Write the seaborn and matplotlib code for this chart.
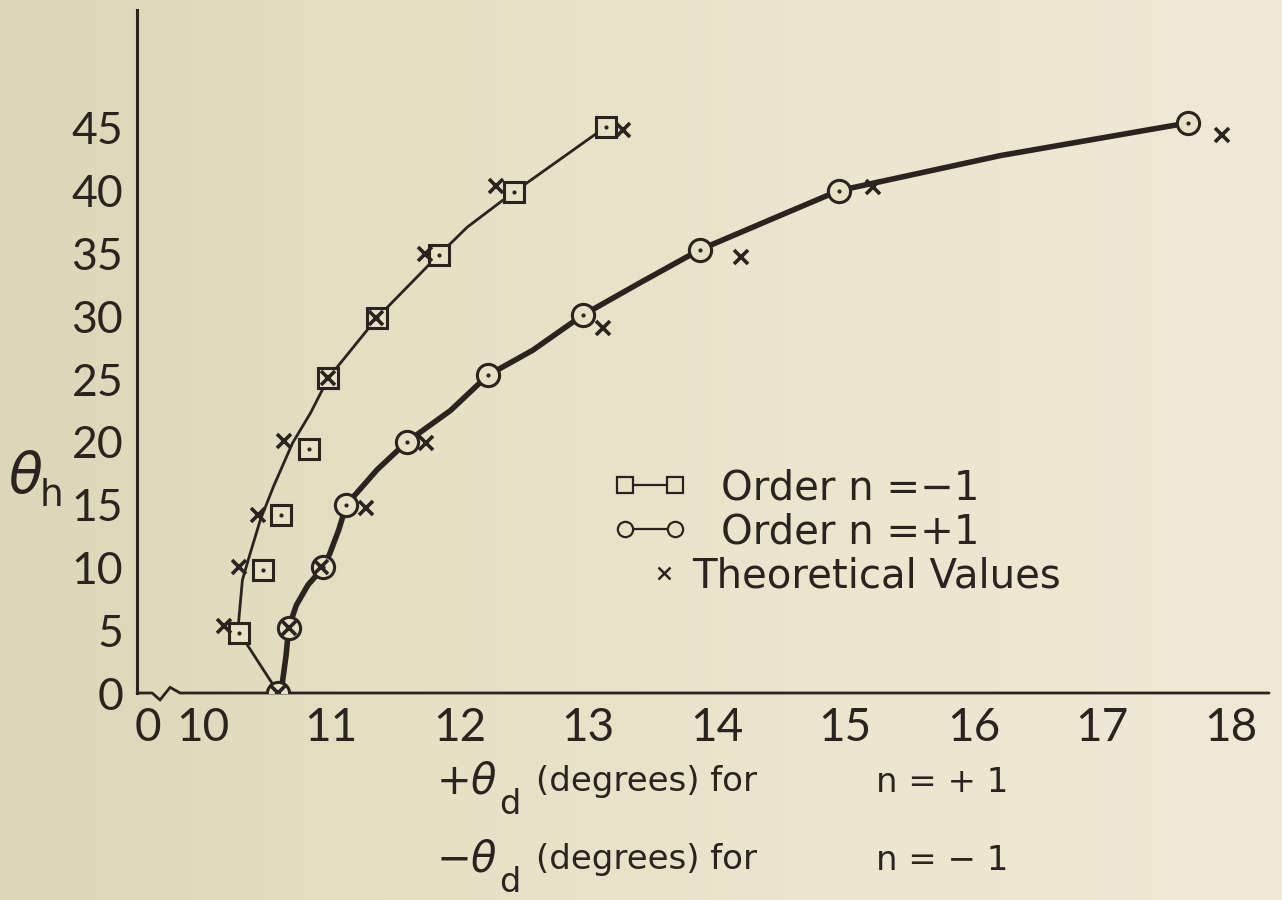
import numpy as np
import matplotlib
matplotlib.use("Agg")
import matplotlib.pyplot as plt
import seaborn as sns
from matplotlib.lines import Line2D
from matplotlib.legend_handler import HandlerLine2D
from matplotlib.transforms import blended_transform_factory

# ---- measured points, order n = -1 (squares) ----
minus_theta_d = [10.28, 10.47, 10.61, 10.83, 10.98, 11.36, 11.84, 12.42, 13.14]
minus_theta_h = [4.8, 9.8, 14.2, 19.4, 25.1, 29.9, 34.9, 39.9, 45.1]

# ---- measured points, order n = +1 (circles) ----
plus_theta_d = [10.59, 10.67, 10.94, 11.12, 11.59, 12.22, 12.96, 13.87, 14.95, 17.67]
plus_theta_h = [0.0, 5.2, 10.0, 15.0, 20.0, 25.3, 30.1, 35.3, 40.0, 45.4]

# ---- theoretical values ----
theory_minus_d = [10.17, 10.28, 10.43, 10.63, 10.98, 11.35, 11.73, 12.28, 13.27]
theory_minus_h = [5.3, 10.0, 14.2, 20.1, 25.1, 29.9, 35.0, 40.4, 44.8]
theory_plus_d = [10.59, 10.67, 10.92, 11.27, 11.74, 13.12, 14.19, 15.22, 17.93]
theory_plus_h = [0.0, 5.2, 10.0, 14.7, 19.9, 29.1, 34.7, 40.3, 44.4]

# ---- hand-faired curves through the measurements ----
minus_curve_d = [10.59, 10.35, 10.28, 10.31, 10.37, 10.45, 10.55, 10.70, 10.84,
                 10.98, 11.36, 11.80, 12.06, 12.37, 13.14]
minus_curve_h = [0.0, 3.8, 5.6, 9.0, 11.1, 13.8, 16.4, 19.9, 22.3,
                 25.1, 29.9, 34.5, 37.1, 39.5, 45.1]
plus_curve_d = [10.61, 10.65, 10.67, 10.73, 10.82, 10.94, 10.99, 11.06, 11.12, 11.36,
                11.59, 11.93, 12.22, 12.57, 12.96, 13.41, 13.87, 14.42, 14.95,
                16.21, 17.67]
plus_curve_h = [0.0, 3.0, 5.2, 7.0, 8.6, 10.0, 11.1, 13.0, 15.0, 17.8,
                20.0, 22.5, 25.3, 27.3, 30.1, 32.7, 35.3, 37.7, 40.0,
                42.8, 45.4]

# ---- axis ticks ----
x_tick_pos = [9.575, 10, 11, 12, 13, 14, 15, 16, 17, 18]
x_tick_labels = ["0", "10", "11", "12", "13", "14", "15", "16", "17", "18"]
y_ticks = [0, 5, 10, 15, 20, 25, 30, 35, 40, 45]

INK = "#2a2420"
PAPER = "#e7e1c6"
W, H = 1282, 900
LETTER = ["DejaVu Sans"]

sns.set_style("white")
plt.rcParams["font.family"] = ["Lato", "DejaVu Sans"]
plt.rcParams["mathtext.fontset"] = "dejavusans"

fig = plt.figure(figsize=(12.82, 9.0), dpi=100)

# paper tone, slightly darker toward the left edge
bg = fig.add_axes([0, 0, 1, 1], zorder=-10)
grad = np.linspace(0, 1, 256)[None, :]
paper_cmap = matplotlib.colors.LinearSegmentedColormap.from_list(
    "paper", ["#dcd7b8", "#e6e0c5", "#ece6cf", "#efe9d6"])
bg.imshow(grad, aspect="auto", cmap=paper_cmap, extent=[0, 1, 0, 1])
bg.set_axis_off()

ax = fig.add_axes([0.1069, 0.23, 0.883, 0.759])
ax.patch.set_alpha(0)

# curves
sns.lineplot(x=minus_curve_d, y=minus_curve_h, sort=False, estimator=None,
             color=INK, linewidth=2.0, ax=ax)
sns.lineplot(x=plus_curve_d, y=plus_curve_h, sort=False, estimator=None,
             color=INK, linewidth=4.0, ax=ax)

# markers with centre dots
ax.plot(minus_theta_d, minus_theta_h, ls="none", marker="s", ms=14,
        mfc=PAPER, mec=INK, mew=2.2, zorder=4)
ax.plot(plus_theta_d, plus_theta_h, ls="none", marker="o", ms=16,
        mfc=PAPER, mec=INK, mew=2.2, zorder=4)
ax.plot(minus_theta_d + plus_theta_d, minus_theta_h + plus_theta_h,
        ls="none", marker="o", ms=2.0, color=INK, zorder=5)
ax.plot(theory_minus_d + theory_plus_d, theory_minus_h + theory_plus_h,
        ls="none", marker="x", ms=10, mew=2.6, color=INK, zorder=6)

ax.set_xlim(9.49, 18.30)
ax.set_ylim(0, 54.4)

ax.set_xticks(x_tick_pos)
ax.set_xticklabels(x_tick_labels)
ax.set_yticks(y_ticks)
ax.tick_params(axis="x", length=0, pad=10, labelsize=33, colors=INK)
ax.tick_params(axis="y", direction="in", length=7, width=1.8, pad=10,
               labelsize=32, colors=INK)

for side in ["top", "right", "bottom"]:
    ax.spines[side].set_visible(False)
ax.spines["left"].set_color(INK)
ax.spines["left"].set_linewidth(2.2)

# horizontal axis with a small break near the origin
tr = blended_transform_factory(ax.transAxes, ax.transData)
brk_x = [0.0, 0.0133, 0.0203, 0.0292, 0.038, 1.0]
brk_y = [0.0, 0.0, -0.55, 0.45, 0.0, 0.0]
ax.plot(brk_x, brk_y, transform=tr, color=INK, lw=2.0, clip_on=False,
        solid_joinstyle="miter")

# legend: two order entries, then the theoretical marker
h_minus = Line2D([], [], color=INK, lw=1.6, marker="s", ms=11, mfc=PAPER,
                 mec=INK, mew=1.6)
h_plus = Line2D([], [], color=INK, lw=1.6, marker="o", ms=11, mfc=PAPER,
                mec=INK, mew=1.6)
h_theory = Line2D([], [], ls="none", marker="x", ms=9, mew=1.8, color=INK)
leg_font = {"family": LETTER, "size": 29}
leg1 = ax.legend([h_minus, h_plus], ["Order n =−1", "Order n =+1"],
                 loc="upper left", bbox_to_anchor=(613 / W, 1 - 468 / H),
                 bbox_transform=fig.transFigure, frameon=False,
                 prop=leg_font, numpoints=2, handlelength=1.84,
                 handletextpad=0.84, labelspacing=0.1, borderpad=0,
                 borderaxespad=0, labelcolor=INK)
ax.add_artist(leg1)
ax.legend([h_theory], ["Theoretical Values"],
          loc="upper left", bbox_to_anchor=(650 / W, 1 - 556 / H),
          bbox_transform=fig.transFigure, frameon=False,
          prop=leg_font, handlelength=0.69, handletextpad=0.35,
          borderpad=0, borderaxespad=0, labelcolor=INK,
          handler_map={h_theory: HandlerLine2D(numpoints=1)})

# vertical axis title
fig.text(8 / W, 1 - 477 / H, r"$\theta$", fontsize=40, color=INK,
         ha="left", va="center")
fig.text(40 / W, 1 - 496 / H, "h", fontsize=27, color=INK,
         ha="left", va="center", family=LETTER)

# horizontal axis title, two lines
for sign, yc in [("+", 782), ("-", 860)]:
    fig.text(436 / W, 1 - yc / H, r"$%s\theta$" % sign, fontsize=30,
             color=INK, ha="left", va="center")
    fig.text(499 / W, 1 - (yc + 22) / H, "d", fontsize=24, color=INK,
             ha="left", va="center", family=LETTER)
    fig.text(536 / W, 1 - yc / H, "(degrees) for", fontsize=24.5, color=INK,
             ha="left", va="center", family=LETTER)
    fig.text(876 / W, 1 - yc / H, "n = %s 1" % ("+" if sign == "+" else "−"),
             fontsize=24.5, color=INK, ha="left", va="center", family=LETTER)

fig.savefig("out.png", dpi=100)
